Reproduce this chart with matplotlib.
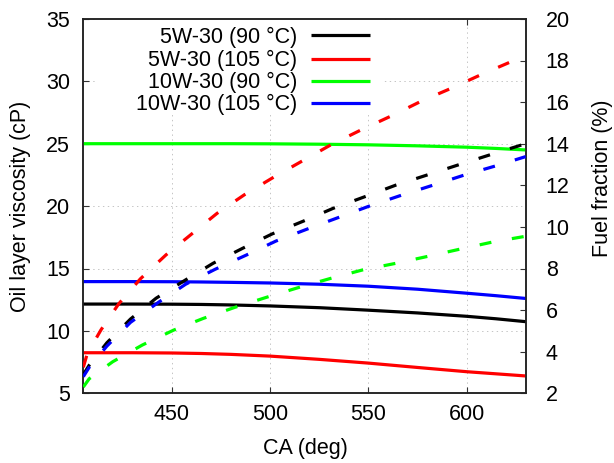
import matplotlib
matplotlib.use("Agg")
import matplotlib.pyplot as plt
from matplotlib.patches import Rectangle

plt.rcParams['font.family'] = ['Liberation Sans', 'DejaVu Sans']
plt.rcParams['lines.scale_dashes'] = False

# ---- data ----
labels = ["5W-30 (90 °C)", "5W-30 (105 °C)", "10W-30 (90 °C)", "10W-30 (105 °C)"]
colors = ["#000000", "#ff0000", "#00ff00", "#0000ff"]

# oil layer viscosity (cP), left axis
ca_visc = [405, 430, 450, 465, 480, 500, 525, 550, 575, 600, 615, 630]
visc_5w30_90 = [12.15, 12.15, 12.14, 12.12, 12.08, 12.0, 11.86, 11.66, 11.44, 11.17, 10.97, 10.74]
visc_5w30_105 = [8.25, 8.25, 8.23, 8.19, 8.12, 7.98, 7.72, 7.42, 7.07, 6.73, 6.56, 6.39]
visc_10w30_90 = [25.0, 25.0, 25.0, 25.0, 25.0, 24.99, 24.96, 24.91, 24.83, 24.72, 24.62, 24.5]
visc_10w30_105 = [13.95, 13.95, 13.94, 13.92, 13.89, 13.84, 13.74, 13.58, 13.34, 13.02, 12.82, 12.6]

# fuel fraction (%), right axis
ca_fuel_5w30_90 = [405, 408, 417, 429, 442, 457, 471, 486, 501, 517, 532, 549, 564, 581, 597, 613, 630]
fuel_5w30_90 = [2.9, 3.35, 4.43, 5.57, 6.57, 7.45, 8.25, 8.97, 9.66, 10.28, 10.89, 11.48, 12.01, 12.53, 13.02, 13.5, 14.0]
ca_fuel_5w30_105 = [405, 407, 414, 423, 434, 447, 460, 473, 487, 502, 516, 531, 546, 562, 577, 593, 608, 624, 630]
fuel_5w30_105 = [3.25, 3.9, 5.05, 6.3, 7.5, 8.65, 9.65, 10.65, 11.55, 12.4, 13.15, 13.95, 14.65, 15.35, 16.05, 16.7, 17.35, 18.0, 18.25]
ca_fuel_10w30_90 = [405, 408, 420, 435, 451, 466, 482, 499, 515, 531, 547, 564, 581, 597, 614, 630]
fuel_10w30_90 = [2.3, 2.7, 3.52, 4.32, 5.04, 5.6, 6.13, 6.64, 7.1, 7.53, 7.93, 8.25, 8.6, 8.94, 9.29, 9.55]
ca_fuel_10w30_105 = [405, 408, 417, 429, 443, 457, 472, 488, 503, 519, 535, 551, 567, 583, 599, 615, 630]
fuel_10w30_105 = [2.8, 3.25, 4.27, 5.41, 6.36, 7.24, 7.96, 8.65, 9.32, 9.9, 10.46, 11.02, 11.53, 12.01, 12.5, 12.94, 13.38]

visc_series = [visc_5w30_90, visc_5w30_105, visc_10w30_90, visc_10w30_105]
fuel_x = [ca_fuel_5w30_90, ca_fuel_5w30_105, ca_fuel_10w30_90, ca_fuel_10w30_105]
fuel_series = [fuel_5w30_90, fuel_5w30_105, fuel_10w30_90, fuel_10w30_105]

x_ticks = [450, 500, 550, 600]
y_ticks = [5, 10, 15, 20, 25, 30, 35]
y2_ticks = [2, 4, 6, 8, 10, 12, 14, 16, 18, 20]

# ---- figure ----
W, H = 614, 463
fig = plt.figure(figsize=(W / 100, H / 100), dpi=100)
L, R, T, B = 83.3, 525.7, 18.9, 393.3
ax = fig.add_axes([L / W, 1 - B / H, (R - L) / W, (B - T) / H])
ax2 = ax.twinx()

FS = 15.5
LW = 2.3
dash = (0, (8.6, 15.0))

for yv, c in zip(visc_series, colors):
    ax.plot(ca_visc, yv, color=c, lw=LW, zorder=3, solid_capstyle='butt', solid_joinstyle='round')
for xv, yv, c in zip(fuel_x, fuel_series, colors):
    ax2.plot(xv, yv, color=c, lw=LW, linestyle=dash, dash_capstyle='butt', zorder=3)

ax.set_xlim(405, 630)
ax.set_ylim(5, 35)
ax2.set_ylim(2, 20)
ax.set_xticks(x_ticks)
ax.set_yticks(y_ticks)
ax2.set_yticks(y2_ticks)

ax.grid(True, color='#c4c4c4', linestyle=(0, (1, 2.5)), linewidth=0.7)
ax.set_axisbelow(True)

ax.tick_params(axis='x', direction='in', top=True, bottom=True, length=4.5, width=0.8,
               labelsize=FS, pad=7.7, color='#333333')
ax.tick_params(axis='y', direction='in', left=True, right=False, length=4.5, width=0.8,
               labelsize=FS, pad=9.6, color='#333333')
ax2.tick_params(axis='y', direction='in', right=True, length=4.5, width=0.8,
                labelsize=FS, pad=14.4, color='#333333')

for a in (ax, ax2):
    for s in a.spines.values():
        s.set_linewidth(1.1)
        s.set_color('#222222')

ax.set_xlabel("CA (deg)", fontsize=FS)
ax.xaxis.set_label_coords(0.501, (B - 437.7) / (B - T))
ax.set_ylabel("Oil layer viscosity (cP)", fontsize=FS, va='center')
ax.yaxis.set_label_coords((21.0 - L) / (R - L), 0.5)
ax2.set_ylabel("Fuel fraction (%)", fontsize=FS, va='center', rotation=90)
ax2.yaxis.set_label_coords((603.0 - L) / (R - L), (B - 178.0) / (B - T))


def ax_x(px):
    return (px - L) / (R - L)


def ax_y(py):
    return (B - py) / (B - T)


# key (legend) with opaque background
ax.add_patch(Rectangle((ax_x(95), ax_y(113)), ax_x(383) - ax_x(95), 1 - ax_y(113),
                       transform=ax.transAxes, facecolor='white', edgecolor='none', zorder=2.5))
rows = [35.0, 58.7, 80.7, 102.7]
for lab, c, ry in zip(labels, colors, rows):
    ax.text(ax_x(297), ax_y(ry + 7.5), lab, transform=ax.transAxes, ha='right', va='baseline',
            fontsize=FS, zorder=4)
    ax.plot([ax_x(311), ax_x(370)], [ax_y(ry), ax_y(ry)], transform=ax.transAxes, color=c,
            lw=LW, solid_capstyle='butt', zorder=4, clip_on=False)

fig.savefig("out.png", dpi=100)
